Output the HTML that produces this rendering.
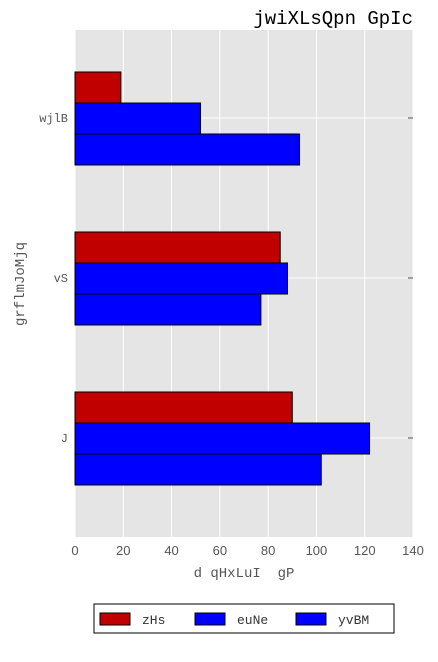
<!DOCTYPE html>
<html><head><meta charset="utf-8"><style>
body{margin:0;background:#fff;}
svg text{font-family:"Liberation Mono",monospace;white-space:pre;}
svg text.sans{font-family:"Liberation Sans",sans-serif;}
</style></head><body>
<svg id="c" width="438" height="657" xmlns="http://www.w3.org/2000/svg">
<rect x="75" y="30" width="338" height="507" fill="#e5e5e5"/>
<g id="grid"></g><g id="bars"></g><g id="ticks"></g>
<text x="413" y="24" text-anchor="end" font-size="19" fill="#000">jwiXLsQpn GpIc</text>
<text x="244" y="577" text-anchor="middle" font-size="14" fill="#555" xml:space="preserve">d qHxLuI  gP</text>
<text transform="translate(24,284) rotate(-90)" text-anchor="middle" font-size="14" fill="#555">grflmJoMjq</text>
<g>
<rect x="94" y="604" width="300" height="29" fill="#fff" stroke="#000" stroke-width="1"/>
<rect x="100" y="613" width="30" height="12" fill="#c00000" stroke="#000"/>
<text x="142" y="624" font-size="13" fill="#333">zHs</text>
<rect x="195" y="613" width="30" height="12" fill="#0000ff" stroke="#000"/>
<text x="237" y="624" font-size="13" fill="#333">euNe</text>
<rect x="296" y="613" width="30" height="12" fill="#0000ff" stroke="#000"/>
<text x="338" y="624" font-size="13" fill="#333">yvBM</text>
</g>
</svg>
<script>
const categories=["J","vS","wjlB"];
const seriesZHs=[90,85,19];
const seriesEuNe=[122,88,52];
const seriesYvBM=[102,77,93];
const xTicks=[0,20,40,60,80,100,120,140];
const colors=["#c00000","#0000ff","#0000ff"];
const NS="http://www.w3.org/2000/svg";
const x=v=>75+v*(338/140);
const y=i=>438-160*i;
const grid=document.getElementById('grid'),bars=document.getElementById('bars'),ticks=document.getElementById('ticks');
function mk(tag,attrs,parent){const e=document.createElementNS(NS,tag);for(const k in attrs)e.setAttribute(k,attrs[k]);parent.appendChild(e);return e;}
xTicks.forEach(t=>{
  const gl=mk('line',{x1:x(t),x2:x(t),y1:30,y2:537,stroke:'#fff','stroke-width':1},grid);
  
  
  const tl=mk('text',{x:x(t),y:555,'text-anchor':'middle','font-size':13,fill:'#555',class:'sans'},ticks);
  tl.textContent=t;
  
  
});
categories.forEach((c,i)=>{
  const gl=mk('line',{x1:75,x2:413,y1:y(i),y2:y(i),stroke:'#fff','stroke-width':1},grid);
  
  
  const tl=mk('text',{x:68,y:y(i)+4,'text-anchor':'end','font-size':12,fill:'#555'},ticks);
  tl.textContent=c;
  
  
  mk('line',{x1:408,x2:413,y1:y(i),y2:y(i),stroke:'#555'},ticks);
});
const series=[seriesZHs,seriesEuNe,seriesYvBM];
const h=31;
series.forEach((s,si)=>{
  s.forEach((v,i)=>{
    const top=y(i)-46+si*h;
    const r=mk('rect',{x:x(0),y:top,width:x(v)-x(0),height:h,fill:colors[si],stroke:'#000','stroke-width':1},bars);
    
    
  });
});
</script>
</body></html>
